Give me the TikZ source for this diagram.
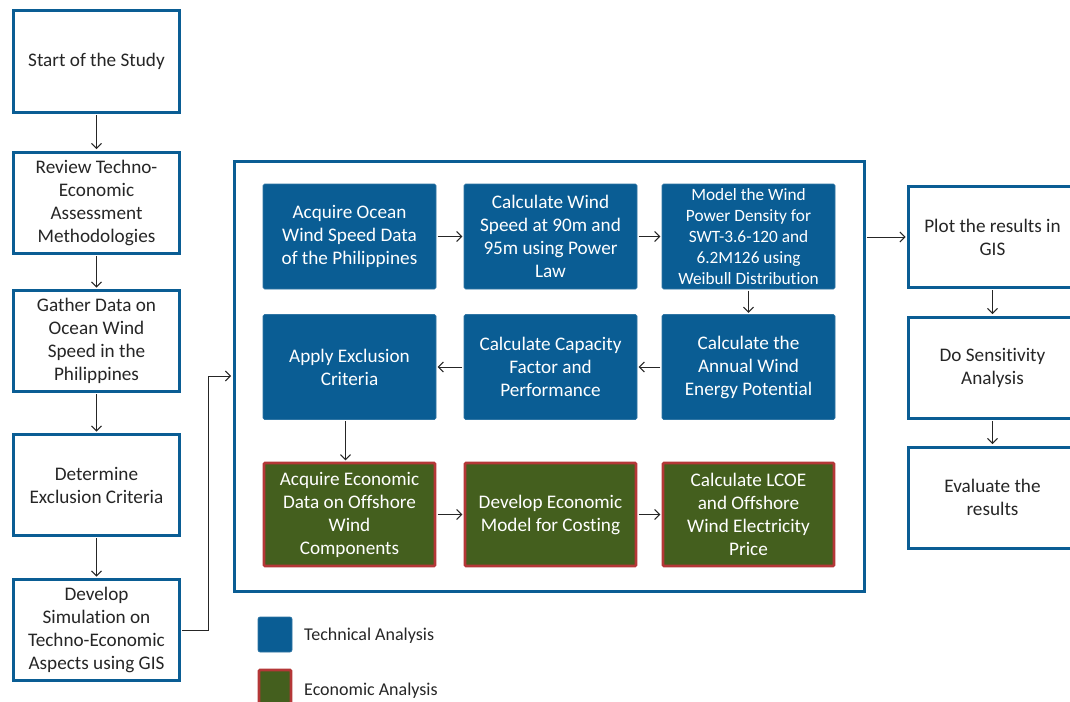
\documentclass[tikz,border=0pt]{standalone}
\usepackage{fontspec}
\setmainfont{Carlito}[Ligatures=NoCommon]
\usetikzlibrary{arrows.meta}
\definecolor{tblue}{RGB}{10,93,148}
\definecolor{egreen}{RGB}{68,95,30}
\definecolor{ered}{RGB}{180,55,55}
\definecolor{txt}{RGB}{38,38,38}
\tikzset{
  wbox/.style={draw=tblue, line width=3pt, fill=white, minimum width=166pt, minimum height=101pt, align=center, text=txt, font=\fontsize{19.2}{23}\selectfont, inner sep=2pt},
  bbox/.style={draw=tblue!85!white, line width=0.6pt, fill=tblue, rounded corners=1.5pt, minimum width=173pt, minimum height=105pt, align=center, text=white, font=\fontsize{19.2}{23}\selectfont, inner sep=1pt},
  gbox/.style={draw=ered, line width=2.6pt, fill=egreen, rounded corners=1pt, minimum width=171pt, minimum height=103pt, align=center, text=white, font=\fontsize{19.2}{23}\selectfont, inner sep=1pt},
  conn/.style={draw=black!85, line width=1pt, shorten >=1.4pt, shorten <=1.4pt, -{Straight Barb[length=5pt,width=10pt,line width=1pt]}},
  legtxt/.style={text=txt, font=\fontsize{18}{21}\selectfont, anchor=west, inner sep=0pt}
}
\begin{document}
\begin{tikzpicture}[x=1pt,y=-1pt]
\useasboundingbox[fill=white] (0,0) rectangle (1070,701);
% left column
\node[wbox] (start) at (96.5,61.5) {Start of the Study};
\node[wbox] (review) at (96.5,202.5) {Review Techno-\\Economic\\Assessment\\Methodologies};
\node[wbox] (gather) at (96.5,341) {Gather Data on\\Ocean Wind\\Speed in the\\Philippines};
\node[wbox] (determine) at (96.5,485) {Determine\\Exclusion Criteria};
\node[wbox] (develop) at (96.5,630) {Develop\\Simulation on\\Techno-Economic\\Aspects using GIS};
% container
\node[draw=tblue, line width=3pt, minimum width=630pt, minimum height=430pt, inner sep=0pt] (container) at (549,376) {};
% blue boxes
\node[bbox] (acq) at (349.5,236.5) {Acquire Ocean\\Wind Speed Data\\of the Philippines};
\node[bbox] (calcws) at (550.5,236.5) {Calculate Wind\\Speed at 90m and\\95m using Power\\Law};
\node[bbox, font=\fontsize{17.3}{21.2}\selectfont] (model) at (748.5,236.5) {Model the Wind\\Power Density for\\SWT-3.6-120 and\\6.2M126 using\\Weibull Distribution};
\node[bbox] (apply) at (349.5,367) {Apply Exclusion\\Criteria};
\node[bbox] (capfac) at (550.5,367) {Calculate Capacity\\Factor and\\Performance};
\node[bbox] (annual) at (748.5,367) {Calculate the\\Annual Wind\\Energy Potential};
% green boxes
\node[gbox] (econ) at (349.5,514.5) {Acquire Economic\\Data on Offshore\\Wind\\Components};
\node[gbox] (devecon) at (550.5,514.5) {Develop Economic\\Model for Costing};
\node[gbox] (lcoe) at (748.5,514.5) {Calculate LCOE\\and Offshore\\Wind Electricity\\Price};
% right column
\node[wbox, minimum width=168pt] (plot) at (992.5,237) {Plot the results in\\GIS};
\node[wbox, minimum width=168pt] (sens) at (992.5,367.5) {Do Sensitivity\\Analysis};
\node[wbox, minimum width=168pt] (eval) at (992.5,497.5) {Evaluate the\\results};
% legend
\node[draw=tblue!85!white, fill=tblue, line width=0.6pt, rounded corners=2pt, minimum width=34pt, minimum height=35pt, inner sep=0pt] (legb) at (275,634.5) {};
\node[legtxt] (legbt) at (304,636) {Technical Analysis};
\node[draw=ered, fill=egreen, line width=2.6pt, rounded corners=1pt, minimum width=32pt, minimum height=34pt, inner sep=0pt] (legg) at (275,687) {};
\node[legtxt] (leggt) at (304,691) {Economic Analysis};
% connectors
\draw[conn] (start) -- (review);
\draw[conn] (review) -- (gather);
\draw[conn] (gather) -- (determine);
\draw[conn] (determine) -- (develop);
\draw[conn] (develop.east) -- ++(27,0) |- (container.west);
\draw[conn] (acq) -- (calcws);
\draw[conn] (calcws) -- (model);
\draw[conn] (model) -- (annual);
\draw[conn] (annual) -- (capfac);
\draw[conn] (capfac) -- (apply);
\draw[conn] ([xshift=-4pt]apply.south) -- ([xshift=-4pt]econ.north);
\draw[conn] (econ) -- (devecon);
\draw[conn] (devecon) -- (lcoe);
\draw[conn] (container.east |- plot.west) -- (plot.west);
\draw[conn] (plot) -- (sens);
\draw[conn] (sens) -- (eval);
\end{tikzpicture}
\end{document}
